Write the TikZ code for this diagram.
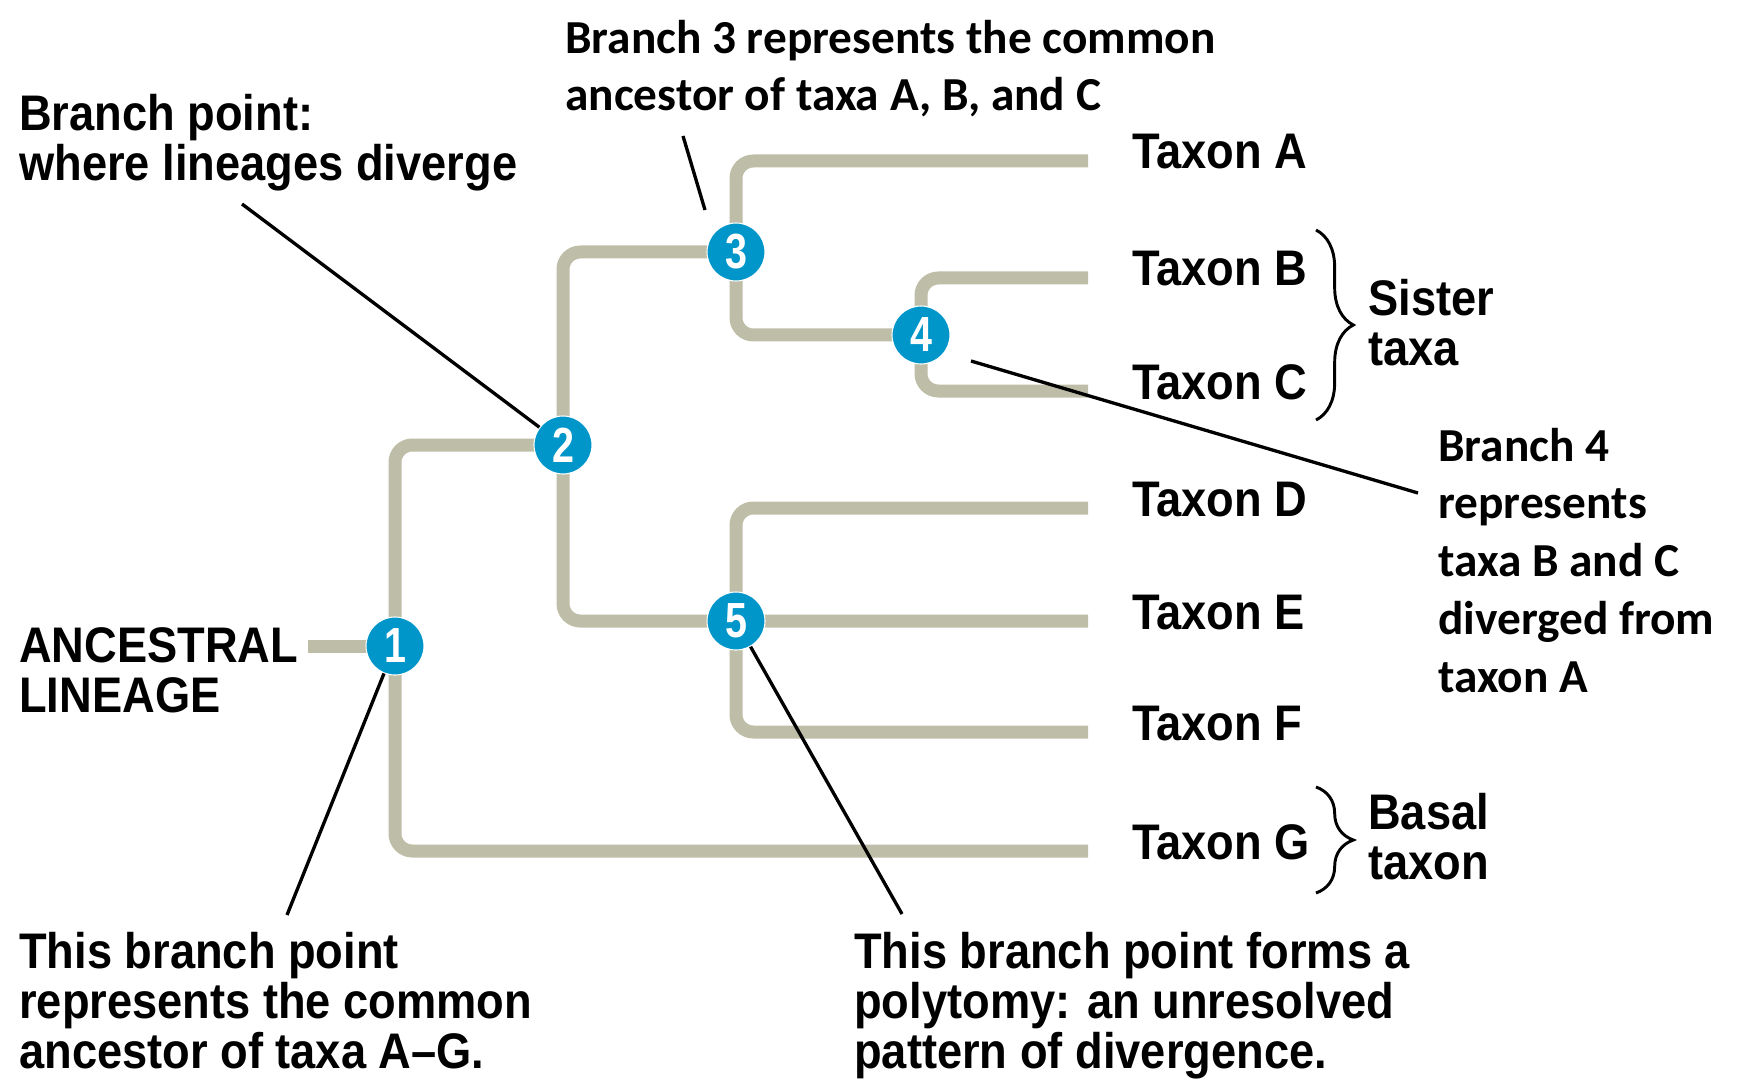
\documentclass[tikz,border=0pt]{standalone}
\usepackage{fontspec}
\usetikzlibrary{decorations.pathreplacing}
\newfontfamily\hvfont{Liberation Sans}[FakeStretch=0.905]
\newfontfamily\hvnum{Liberation Sans}[FakeStretch=0.8]
\newfontfamily\calfont{Carlito}
\definecolor{treegray}{RGB}{190,189,168}
\definecolor{nodeblue}{RGB}{0,150,201}
\begin{document}
\begin{tikzpicture}[x=0.75pt,y=-0.75pt,
  tree/.style={draw=treegray, line width=9.75pt, rounded corners=13pt},
  bp/.style={circle, fill=nodeblue, draw=white, line width=0.8pt, minimum size=43.5pt, inner sep=0pt, text=white, font=\hvnum\bfseries\fontsize{37}{37}\selectfont},
  callout/.style={draw=black, line width=2.5pt},
  lbl/.style={anchor=base west, inner sep=0pt, font=\hvfont\bfseries\fontsize{37.5}{37.5}\selectfont, align=left},
  taxon/.style={anchor=base west, inner sep=0pt, font=\hvfont\bfseries\fontsize{37.5}{37.5}\selectfont},
  note/.style={anchor=base west, inner sep=0pt, font=\calfont\bfseries\fontsize{35.5}{43.3}\selectfont, align=left},
  bracket/.style={draw=black, line width=2.2pt, decorate, decoration={brace, amplitude=28pt}}
]
\useasboundingbox (0,0) rectangle (1744,1080);

% branch points
\coordinate (p1) at (395,646);
\coordinate (p2) at (563,445);
\coordinate (p3) at (736,252);
\coordinate (p4) at (921,335);
\coordinate (p5) at (736,621);
\coordinate (root) at (308,646);

% tree
\draw[tree] (root) -- (p1);
\draw[tree] (p2) -- (395,445) -- (395,851) -- (1088,851);
\draw[tree] (p3) -- (563,252) -- (563,621) -- (1088,621);
\draw[tree] (1088,161) -- (736,161) -- (736,335) -- (p4);
\draw[tree] (1088,278) -- (921,278) -- (921,391) -- (1088,391);
\draw[tree] (1088,508) -- (736,508) -- (736,732) -- (1088,732);

% nodes
\node[bp] (n1) at (p1) {1};
\node[bp] (n2) at (p2) {2};
\node[bp] (n3) at (p3) {3};
\node[bp] (n4) at (p4) {4};
\node[bp] (n5) at (p5) {5};

% taxa
\node[taxon] (tA) at (1132,169) {Taxon A};
\node[taxon] (tB) at (1132,286) {Taxon B};
\node[taxon] (tC) at (1132,399) {Taxon C};
\node[taxon] (tD) at (1132,516) {Taxon D};
\node[taxon] (tE) at (1132,629) {Taxon E};
\node[taxon] (tF) at (1132,740) {Taxon F};
\node[taxon] (tG) at (1132,859) {Taxon G};

% braces
\draw[bracket] (1316,230) -- (1316,420);
\draw[bracket] (1316,787) -- (1316,893);
\node[lbl] (sister) at (1368,365) {Sister\\taxa};
\node[lbl] (basal) at (1368,879) {Basal\\taxon};

% labels (anchor = baseline of last line)
\node[lbl] (bpoint) at (19,181) {Branch point:\\where lineages diverge};
\node[lbl] (anc) at (19,712) {ANCESTRAL\\LINEAGE};
\node[lbl] (l1) at (19,1068) {This branch point\\represents the common\\ancestor of taxa A–G.};
\node[lbl] (l5) at (854,1068) {This branch point forms a\\polytomy: an unresolved\\pattern of divergence.};
\node[note] (l3) at (565,111) {Branch 3 represents the common\\ancestor of taxa A, B, and C};
\node[note] (l4) at (1438,692) {Branch 4\\represents\\taxa B and C\\diverged from\\taxon A};

% callout lines
\coordinate (c2) at (242,204);
\coordinate (c3a) at (683,136);
\coordinate (c3b) at (705,210);
\coordinate (c4a) at (971,361);
\coordinate (c4b) at (1418,493);
\coordinate (c1) at (287,915);
\coordinate (c5) at (902,914);
\draw[callout] (c2) -- (n2);
\draw[callout] (c3a) -- (c3b);
\draw[callout] (c4a) -- (c4b);
\draw[callout] (n1) -- (c1);
\draw[callout] (n5) -- (c5);
\end{tikzpicture}
\end{document}
